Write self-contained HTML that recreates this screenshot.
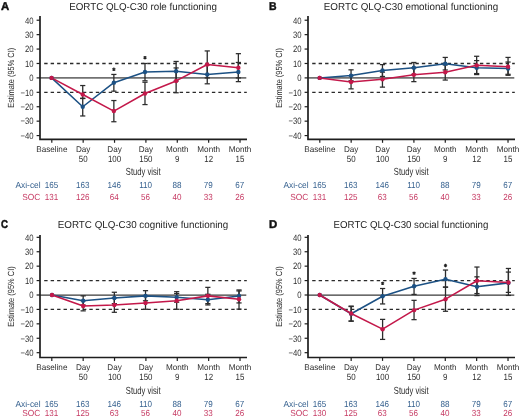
<!DOCTYPE html>
<html><head><meta charset="utf-8"><style>
html,body{margin:0;padding:0;background:#fff;width:520px;height:418px;overflow:hidden}
svg{display:block;will-change:transform}
text{font-family:"Liberation Sans",sans-serif;text-rendering:geometricPrecision}
</style></head><body>
<svg width="520" height="418" viewBox="0 0 520 418">
<rect width="520" height="418" fill="#fff"/>
<text transform="translate(0.9 9.7) scale(1.0 1)" font-size="11.4" font-weight="bold" fill="#111" stroke="#111" stroke-width="0.45">A</text>
<text x="143.0" y="9.7" font-size="10.1" fill="#262626" text-anchor="middle" textLength="147.7" lengthAdjust="spacingAndGlyphs">EORTC QLQ-C30 role functioning</text>
<line x1="44.2" y1="63.48" x2="246.8" y2="63.48" stroke="#2a2a2a" stroke-width="1.3" stroke-dasharray="3.4 3.05"/>
<line x1="44.2" y1="92.32" x2="246.8" y2="92.32" stroke="#2a2a2a" stroke-width="1.3" stroke-dasharray="3.4 3.05"/>
<line x1="40" y1="77.90" x2="246.3" y2="77.90" stroke="#727272" stroke-width="1.9"/>
<path d="M40 15.9 V139.4 H247" fill="none" stroke="#1e1e1e" stroke-width="1.7"/>
<line x1="36.6" y1="20.22" x2="40" y2="20.22" stroke="#1e1e1e" stroke-width="1.2"/>
<text transform="translate(33.60 23.52) scale(0.84 1)" font-size="9.2" fill="#2e2e2e" text-anchor="end">40</text>
<line x1="36.6" y1="34.64" x2="40" y2="34.64" stroke="#1e1e1e" stroke-width="1.2"/>
<text transform="translate(33.60 37.94) scale(0.84 1)" font-size="9.2" fill="#2e2e2e" text-anchor="end">30</text>
<line x1="36.6" y1="49.06" x2="40" y2="49.06" stroke="#1e1e1e" stroke-width="1.2"/>
<text transform="translate(33.60 52.36) scale(0.84 1)" font-size="9.2" fill="#2e2e2e" text-anchor="end">20</text>
<line x1="36.6" y1="63.48" x2="40" y2="63.48" stroke="#1e1e1e" stroke-width="1.2"/>
<text transform="translate(33.60 66.78) scale(0.84 1)" font-size="9.2" fill="#2e2e2e" text-anchor="end">10</text>
<line x1="36.6" y1="77.90" x2="40" y2="77.90" stroke="#1e1e1e" stroke-width="1.2"/>
<text transform="translate(33.60 81.20) scale(0.84 1)" font-size="9.2" fill="#2e2e2e" text-anchor="end">0</text>
<line x1="36.6" y1="92.32" x2="40" y2="92.32" stroke="#1e1e1e" stroke-width="1.2"/>
<text transform="translate(33.60 95.62) scale(0.84 1)" font-size="9.2" fill="#2e2e2e" text-anchor="end">−10</text>
<line x1="36.6" y1="106.74" x2="40" y2="106.74" stroke="#1e1e1e" stroke-width="1.2"/>
<text transform="translate(33.60 110.04) scale(0.84 1)" font-size="9.2" fill="#2e2e2e" text-anchor="end">−20</text>
<line x1="36.6" y1="121.16" x2="40" y2="121.16" stroke="#1e1e1e" stroke-width="1.2"/>
<text transform="translate(33.60 124.46) scale(0.84 1)" font-size="9.2" fill="#2e2e2e" text-anchor="end">−30</text>
<line x1="36.6" y1="135.58" x2="40" y2="135.58" stroke="#1e1e1e" stroke-width="1.2"/>
<text transform="translate(33.60 138.88) scale(0.84 1)" font-size="9.2" fill="#2e2e2e" text-anchor="end">−40</text>
<text transform="translate(14.0,77.80) rotate(-90)" x="0" y="0" font-size="8.9" fill="#2e2e2e" text-anchor="middle" textLength="60" lengthAdjust="spacingAndGlyphs">Estimate (95% CI)</text>
<line x1="51.80" y1="139.4" x2="51.80" y2="142.8" stroke="#1e1e1e" stroke-width="1.2"/>
<text transform="translate(51.80 151.90) scale(0.98 1)" font-size="8.3" fill="#2e2e2e" text-anchor="middle">Baseline</text>
<line x1="83.17" y1="139.4" x2="83.17" y2="142.8" stroke="#1e1e1e" stroke-width="1.2"/>
<text transform="translate(83.17 151.90) scale(0.98 1)" font-size="8.3" fill="#2e2e2e" text-anchor="middle">Day</text>
<text transform="translate(83.17 161.60) scale(0.88 1)" font-size="9.0" fill="#2e2e2e" text-anchor="middle">50</text>
<line x1="114.54" y1="139.4" x2="114.54" y2="142.8" stroke="#1e1e1e" stroke-width="1.2"/>
<text transform="translate(114.54 151.90) scale(0.98 1)" font-size="8.3" fill="#2e2e2e" text-anchor="middle">Day</text>
<text transform="translate(114.54 161.60) scale(0.88 1)" font-size="9.0" fill="#2e2e2e" text-anchor="middle">100</text>
<line x1="145.91" y1="139.4" x2="145.91" y2="142.8" stroke="#1e1e1e" stroke-width="1.2"/>
<text transform="translate(145.91 151.90) scale(0.98 1)" font-size="8.3" fill="#2e2e2e" text-anchor="middle">Day</text>
<text transform="translate(145.91 161.60) scale(0.88 1)" font-size="9.0" fill="#2e2e2e" text-anchor="middle">150</text>
<line x1="177.28" y1="139.4" x2="177.28" y2="142.8" stroke="#1e1e1e" stroke-width="1.2"/>
<text transform="translate(177.28 151.90) scale(0.98 1)" font-size="8.3" fill="#2e2e2e" text-anchor="middle">Month</text>
<text transform="translate(177.28 161.60) scale(0.88 1)" font-size="9.0" fill="#2e2e2e" text-anchor="middle">9</text>
<line x1="208.65" y1="139.4" x2="208.65" y2="142.8" stroke="#1e1e1e" stroke-width="1.2"/>
<text transform="translate(208.65 151.90) scale(0.98 1)" font-size="8.3" fill="#2e2e2e" text-anchor="middle">Month</text>
<text transform="translate(208.65 161.60) scale(0.88 1)" font-size="9.0" fill="#2e2e2e" text-anchor="middle">12</text>
<line x1="240.02" y1="139.4" x2="240.02" y2="142.8" stroke="#1e1e1e" stroke-width="1.2"/>
<text transform="translate(240.02 151.90) scale(0.98 1)" font-size="8.3" fill="#2e2e2e" text-anchor="middle">Month</text>
<text transform="translate(240.02 161.60) scale(0.88 1)" font-size="9.0" fill="#2e2e2e" text-anchor="middle">15</text>
<text transform="translate(143.20 175.30) scale(0.74 1)" font-size="10.3" fill="#2e2e2e" text-anchor="middle">Study visit</text>
<text transform="translate(40.60 188.10) scale(0.95 1)" font-size="8.8" fill="#36618f" text-anchor="end">Axi-cel</text>
<text transform="translate(40.40 199.90) scale(0.95 1)" font-size="8.8" fill="#c63a63" text-anchor="end">SOC</text>
<text transform="translate(51.50 188.10) scale(0.92 1)" font-size="8.8" fill="#36618f" text-anchor="middle">165</text>
<text transform="translate(51.50 199.90) scale(0.92 1)" font-size="8.8" fill="#c63a63" text-anchor="middle">131</text>
<text transform="translate(82.87 188.10) scale(0.92 1)" font-size="8.8" fill="#36618f" text-anchor="middle">163</text>
<text transform="translate(82.87 199.90) scale(0.92 1)" font-size="8.8" fill="#c63a63" text-anchor="middle">126</text>
<text transform="translate(114.24 188.10) scale(0.92 1)" font-size="8.8" fill="#36618f" text-anchor="middle">146</text>
<text transform="translate(114.24 199.90) scale(0.92 1)" font-size="8.8" fill="#c63a63" text-anchor="middle">64</text>
<text transform="translate(145.61 188.10) scale(0.92 1)" font-size="8.8" fill="#36618f" text-anchor="middle">110</text>
<text transform="translate(145.61 199.90) scale(0.92 1)" font-size="8.8" fill="#c63a63" text-anchor="middle">56</text>
<text transform="translate(176.98 188.10) scale(0.92 1)" font-size="8.8" fill="#36618f" text-anchor="middle">88</text>
<text transform="translate(176.98 199.90) scale(0.92 1)" font-size="8.8" fill="#c63a63" text-anchor="middle">40</text>
<text transform="translate(208.35 188.10) scale(0.92 1)" font-size="8.8" fill="#36618f" text-anchor="middle">79</text>
<text transform="translate(208.35 199.90) scale(0.92 1)" font-size="8.8" fill="#c63a63" text-anchor="middle">33</text>
<text transform="translate(239.72 188.10) scale(0.92 1)" font-size="8.8" fill="#36618f" text-anchor="middle">67</text>
<text transform="translate(239.72 199.90) scale(0.92 1)" font-size="8.8" fill="#c63a63" text-anchor="middle">26</text>
<line x1="82.73" y1="98.23" x2="82.73" y2="115.97" stroke="#2c2c2c" stroke-width="1.3"/>
<line x1="80.13" y1="115.97" x2="85.33" y2="115.97" stroke="#2c2c2c" stroke-width="1.25"/>
<line x1="80.13" y1="98.23" x2="85.33" y2="98.23" stroke="#2c2c2c" stroke-width="1.25"/>
<line x1="82.73" y1="85.54" x2="82.73" y2="98.52" stroke="#2c2c2c" stroke-width="1.3"/>
<line x1="80.13" y1="98.52" x2="85.33" y2="98.52" stroke="#2c2c2c" stroke-width="1.25"/>
<line x1="80.13" y1="85.54" x2="85.33" y2="85.54" stroke="#2c2c2c" stroke-width="1.25"/>
<line x1="113.86" y1="74.44" x2="113.86" y2="91.17" stroke="#2c2c2c" stroke-width="1.3"/>
<line x1="111.26" y1="91.17" x2="116.46" y2="91.17" stroke="#2c2c2c" stroke-width="1.25"/>
<line x1="111.26" y1="74.44" x2="116.46" y2="74.44" stroke="#2c2c2c" stroke-width="1.25"/>
<line x1="113.86" y1="100.54" x2="113.86" y2="121.74" stroke="#2c2c2c" stroke-width="1.3"/>
<line x1="111.26" y1="121.74" x2="116.46" y2="121.74" stroke="#2c2c2c" stroke-width="1.25"/>
<line x1="111.26" y1="100.54" x2="116.46" y2="100.54" stroke="#2c2c2c" stroke-width="1.25"/>
<path d="M113.86 67.60V71.00M112.36 68.45L115.36 70.15M112.36 70.15L115.36 68.45" stroke="#222" stroke-width="1.1"/>
<line x1="144.99" y1="63.48" x2="144.99" y2="80.78" stroke="#2c2c2c" stroke-width="1.3"/>
<line x1="142.39" y1="80.78" x2="147.59" y2="80.78" stroke="#2c2c2c" stroke-width="1.25"/>
<line x1="142.39" y1="63.48" x2="147.59" y2="63.48" stroke="#2c2c2c" stroke-width="1.25"/>
<line x1="144.99" y1="82.23" x2="144.99" y2="104.58" stroke="#2c2c2c" stroke-width="1.3"/>
<line x1="142.39" y1="104.58" x2="147.59" y2="104.58" stroke="#2c2c2c" stroke-width="1.25"/>
<line x1="142.39" y1="82.23" x2="147.59" y2="82.23" stroke="#2c2c2c" stroke-width="1.25"/>
<path d="M144.99 56.00V59.40M143.49 56.85L146.49 58.55M143.49 58.55L146.49 56.85" stroke="#222" stroke-width="1.1"/>
<line x1="176.12" y1="61.46" x2="176.12" y2="81.07" stroke="#2c2c2c" stroke-width="1.3"/>
<line x1="173.52" y1="81.07" x2="178.72" y2="81.07" stroke="#2c2c2c" stroke-width="1.25"/>
<line x1="173.52" y1="61.46" x2="178.72" y2="61.46" stroke="#2c2c2c" stroke-width="1.25"/>
<line x1="176.12" y1="67.95" x2="176.12" y2="92.75" stroke="#2c2c2c" stroke-width="1.3"/>
<line x1="173.52" y1="92.75" x2="178.72" y2="92.75" stroke="#2c2c2c" stroke-width="1.25"/>
<line x1="173.52" y1="67.95" x2="178.72" y2="67.95" stroke="#2c2c2c" stroke-width="1.25"/>
<line x1="207.25" y1="64.92" x2="207.25" y2="83.81" stroke="#2c2c2c" stroke-width="1.3"/>
<line x1="204.65" y1="83.81" x2="209.85" y2="83.81" stroke="#2c2c2c" stroke-width="1.25"/>
<line x1="204.65" y1="64.92" x2="209.85" y2="64.92" stroke="#2c2c2c" stroke-width="1.25"/>
<line x1="207.25" y1="50.93" x2="207.25" y2="77.90" stroke="#2c2c2c" stroke-width="1.3"/>
<line x1="204.65" y1="77.90" x2="209.85" y2="77.90" stroke="#2c2c2c" stroke-width="1.25"/>
<line x1="204.65" y1="50.93" x2="209.85" y2="50.93" stroke="#2c2c2c" stroke-width="1.25"/>
<line x1="238.38" y1="62.47" x2="238.38" y2="81.65" stroke="#2c2c2c" stroke-width="1.3"/>
<line x1="235.78" y1="81.65" x2="240.98" y2="81.65" stroke="#2c2c2c" stroke-width="1.25"/>
<line x1="235.78" y1="62.47" x2="240.98" y2="62.47" stroke="#2c2c2c" stroke-width="1.25"/>
<line x1="238.38" y1="53.67" x2="238.38" y2="77.90" stroke="#2c2c2c" stroke-width="1.3"/>
<line x1="235.78" y1="77.90" x2="240.98" y2="77.90" stroke="#2c2c2c" stroke-width="1.25"/>
<line x1="235.78" y1="53.67" x2="240.98" y2="53.67" stroke="#2c2c2c" stroke-width="1.25"/>
<polyline points="51.60,77.90 82.73,106.74 113.86,82.66 144.99,71.99 176.12,71.27 207.25,74.44 238.38,71.99" fill="none" stroke="#1c5184" stroke-width="1.55" stroke-linejoin="round"/>
<polyline points="51.60,77.90 82.73,94.48 113.86,111.07 144.99,93.47 176.12,80.93 207.25,64.49 238.38,67.81" fill="none" stroke="#c3184a" stroke-width="1.55" stroke-linejoin="round"/>
<circle cx="51.60" cy="77.90" r="2.2" fill="#1c5184"/>
<circle cx="82.73" cy="106.74" r="2.2" fill="#1c5184"/>
<circle cx="113.86" cy="82.66" r="2.2" fill="#1c5184"/>
<circle cx="144.99" cy="71.99" r="2.2" fill="#1c5184"/>
<circle cx="176.12" cy="71.27" r="2.2" fill="#1c5184"/>
<circle cx="207.25" cy="74.44" r="2.2" fill="#1c5184"/>
<circle cx="238.38" cy="71.99" r="2.2" fill="#1c5184"/>
<circle cx="51.60" cy="77.90" r="2.2" fill="#c3184a"/>
<circle cx="82.73" cy="94.48" r="2.2" fill="#c3184a"/>
<circle cx="113.86" cy="111.07" r="2.2" fill="#c3184a"/>
<circle cx="144.99" cy="93.47" r="2.2" fill="#c3184a"/>
<circle cx="176.12" cy="80.93" r="2.2" fill="#c3184a"/>
<circle cx="207.25" cy="64.49" r="2.2" fill="#c3184a"/>
<circle cx="238.38" cy="67.81" r="2.2" fill="#c3184a"/>
<text transform="translate(268.9 9.7) scale(0.92 1)" font-size="11.4" font-weight="bold" fill="#111" stroke="#111" stroke-width="0.45">B</text>
<text x="411.0" y="9.7" font-size="10.1" fill="#262626" text-anchor="middle" textLength="174.4" lengthAdjust="spacingAndGlyphs">EORTC QLQ-C30 emotional functioning</text>
<line x1="312.2" y1="63.48" x2="514.8" y2="63.48" stroke="#2a2a2a" stroke-width="1.3" stroke-dasharray="3.4 3.05"/>
<line x1="312.2" y1="92.32" x2="514.8" y2="92.32" stroke="#2a2a2a" stroke-width="1.3" stroke-dasharray="3.4 3.05"/>
<line x1="308" y1="77.90" x2="514.3" y2="77.90" stroke="#727272" stroke-width="1.9"/>
<path d="M308 15.9 V139.4 H515" fill="none" stroke="#1e1e1e" stroke-width="1.7"/>
<line x1="304.6" y1="20.22" x2="308" y2="20.22" stroke="#1e1e1e" stroke-width="1.2"/>
<text transform="translate(301.60 23.52) scale(0.84 1)" font-size="9.2" fill="#2e2e2e" text-anchor="end">40</text>
<line x1="304.6" y1="34.64" x2="308" y2="34.64" stroke="#1e1e1e" stroke-width="1.2"/>
<text transform="translate(301.60 37.94) scale(0.84 1)" font-size="9.2" fill="#2e2e2e" text-anchor="end">30</text>
<line x1="304.6" y1="49.06" x2="308" y2="49.06" stroke="#1e1e1e" stroke-width="1.2"/>
<text transform="translate(301.60 52.36) scale(0.84 1)" font-size="9.2" fill="#2e2e2e" text-anchor="end">20</text>
<line x1="304.6" y1="63.48" x2="308" y2="63.48" stroke="#1e1e1e" stroke-width="1.2"/>
<text transform="translate(301.60 66.78) scale(0.84 1)" font-size="9.2" fill="#2e2e2e" text-anchor="end">10</text>
<line x1="304.6" y1="77.90" x2="308" y2="77.90" stroke="#1e1e1e" stroke-width="1.2"/>
<text transform="translate(301.60 81.20) scale(0.84 1)" font-size="9.2" fill="#2e2e2e" text-anchor="end">0</text>
<line x1="304.6" y1="92.32" x2="308" y2="92.32" stroke="#1e1e1e" stroke-width="1.2"/>
<text transform="translate(301.60 95.62) scale(0.84 1)" font-size="9.2" fill="#2e2e2e" text-anchor="end">−10</text>
<line x1="304.6" y1="106.74" x2="308" y2="106.74" stroke="#1e1e1e" stroke-width="1.2"/>
<text transform="translate(301.60 110.04) scale(0.84 1)" font-size="9.2" fill="#2e2e2e" text-anchor="end">−20</text>
<line x1="304.6" y1="121.16" x2="308" y2="121.16" stroke="#1e1e1e" stroke-width="1.2"/>
<text transform="translate(301.60 124.46) scale(0.84 1)" font-size="9.2" fill="#2e2e2e" text-anchor="end">−30</text>
<line x1="304.6" y1="135.58" x2="308" y2="135.58" stroke="#1e1e1e" stroke-width="1.2"/>
<text transform="translate(301.60 138.88) scale(0.84 1)" font-size="9.2" fill="#2e2e2e" text-anchor="end">−40</text>
<text transform="translate(281.8,77.95) rotate(-90)" x="0" y="0" font-size="8.9" fill="#2e2e2e" text-anchor="middle" textLength="59.8" lengthAdjust="spacingAndGlyphs">Estimate (95% CI)</text>
<line x1="319.80" y1="139.4" x2="319.80" y2="142.8" stroke="#1e1e1e" stroke-width="1.2"/>
<text transform="translate(319.80 151.90) scale(0.98 1)" font-size="8.3" fill="#2e2e2e" text-anchor="middle">Baseline</text>
<line x1="351.17" y1="139.4" x2="351.17" y2="142.8" stroke="#1e1e1e" stroke-width="1.2"/>
<text transform="translate(351.17 151.90) scale(0.98 1)" font-size="8.3" fill="#2e2e2e" text-anchor="middle">Day</text>
<text transform="translate(351.17 161.60) scale(0.88 1)" font-size="9.0" fill="#2e2e2e" text-anchor="middle">50</text>
<line x1="382.54" y1="139.4" x2="382.54" y2="142.8" stroke="#1e1e1e" stroke-width="1.2"/>
<text transform="translate(382.54 151.90) scale(0.98 1)" font-size="8.3" fill="#2e2e2e" text-anchor="middle">Day</text>
<text transform="translate(382.54 161.60) scale(0.88 1)" font-size="9.0" fill="#2e2e2e" text-anchor="middle">100</text>
<line x1="413.91" y1="139.4" x2="413.91" y2="142.8" stroke="#1e1e1e" stroke-width="1.2"/>
<text transform="translate(413.91 151.90) scale(0.98 1)" font-size="8.3" fill="#2e2e2e" text-anchor="middle">Day</text>
<text transform="translate(413.91 161.60) scale(0.88 1)" font-size="9.0" fill="#2e2e2e" text-anchor="middle">150</text>
<line x1="445.28" y1="139.4" x2="445.28" y2="142.8" stroke="#1e1e1e" stroke-width="1.2"/>
<text transform="translate(445.28 151.90) scale(0.98 1)" font-size="8.3" fill="#2e2e2e" text-anchor="middle">Month</text>
<text transform="translate(445.28 161.60) scale(0.88 1)" font-size="9.0" fill="#2e2e2e" text-anchor="middle">9</text>
<line x1="476.65" y1="139.4" x2="476.65" y2="142.8" stroke="#1e1e1e" stroke-width="1.2"/>
<text transform="translate(476.65 151.90) scale(0.98 1)" font-size="8.3" fill="#2e2e2e" text-anchor="middle">Month</text>
<text transform="translate(476.65 161.60) scale(0.88 1)" font-size="9.0" fill="#2e2e2e" text-anchor="middle">12</text>
<line x1="508.02" y1="139.4" x2="508.02" y2="142.8" stroke="#1e1e1e" stroke-width="1.2"/>
<text transform="translate(508.02 151.90) scale(0.98 1)" font-size="8.3" fill="#2e2e2e" text-anchor="middle">Month</text>
<text transform="translate(508.02 161.60) scale(0.88 1)" font-size="9.0" fill="#2e2e2e" text-anchor="middle">15</text>
<text transform="translate(411.20 175.30) scale(0.74 1)" font-size="10.3" fill="#2e2e2e" text-anchor="middle">Study visit</text>
<text transform="translate(308.60 188.10) scale(0.95 1)" font-size="8.8" fill="#36618f" text-anchor="end">Axi-cel</text>
<text transform="translate(308.40 199.90) scale(0.95 1)" font-size="8.8" fill="#c63a63" text-anchor="end">SOC</text>
<text transform="translate(319.50 188.10) scale(0.92 1)" font-size="8.8" fill="#36618f" text-anchor="middle">165</text>
<text transform="translate(319.50 199.90) scale(0.92 1)" font-size="8.8" fill="#c63a63" text-anchor="middle">131</text>
<text transform="translate(350.87 188.10) scale(0.92 1)" font-size="8.8" fill="#36618f" text-anchor="middle">163</text>
<text transform="translate(350.87 199.90) scale(0.92 1)" font-size="8.8" fill="#c63a63" text-anchor="middle">125</text>
<text transform="translate(382.24 188.10) scale(0.92 1)" font-size="8.8" fill="#36618f" text-anchor="middle">146</text>
<text transform="translate(382.24 199.90) scale(0.92 1)" font-size="8.8" fill="#c63a63" text-anchor="middle">63</text>
<text transform="translate(413.61 188.10) scale(0.92 1)" font-size="8.8" fill="#36618f" text-anchor="middle">110</text>
<text transform="translate(413.61 199.90) scale(0.92 1)" font-size="8.8" fill="#c63a63" text-anchor="middle">56</text>
<text transform="translate(444.98 188.10) scale(0.92 1)" font-size="8.8" fill="#36618f" text-anchor="middle">88</text>
<text transform="translate(444.98 199.90) scale(0.92 1)" font-size="8.8" fill="#c63a63" text-anchor="middle">40</text>
<text transform="translate(476.35 188.10) scale(0.92 1)" font-size="8.8" fill="#36618f" text-anchor="middle">79</text>
<text transform="translate(476.35 199.90) scale(0.92 1)" font-size="8.8" fill="#c63a63" text-anchor="middle">33</text>
<text transform="translate(507.72 188.10) scale(0.92 1)" font-size="8.8" fill="#36618f" text-anchor="middle">67</text>
<text transform="translate(507.72 199.90) scale(0.92 1)" font-size="8.8" fill="#c63a63" text-anchor="middle">26</text>
<line x1="351.05" y1="69.82" x2="351.05" y2="80.78" stroke="#2c2c2c" stroke-width="1.3"/>
<line x1="348.45" y1="80.78" x2="353.65" y2="80.78" stroke="#2c2c2c" stroke-width="1.25"/>
<line x1="348.45" y1="69.82" x2="353.65" y2="69.82" stroke="#2c2c2c" stroke-width="1.25"/>
<line x1="351.05" y1="75.74" x2="351.05" y2="88.86" stroke="#2c2c2c" stroke-width="1.3"/>
<line x1="348.45" y1="88.86" x2="353.65" y2="88.86" stroke="#2c2c2c" stroke-width="1.25"/>
<line x1="348.45" y1="75.74" x2="353.65" y2="75.74" stroke="#2c2c2c" stroke-width="1.25"/>
<line x1="382.45" y1="64.63" x2="382.45" y2="76.46" stroke="#2c2c2c" stroke-width="1.3"/>
<line x1="379.85" y1="76.46" x2="385.05" y2="76.46" stroke="#2c2c2c" stroke-width="1.25"/>
<line x1="379.85" y1="64.63" x2="385.05" y2="64.63" stroke="#2c2c2c" stroke-width="1.25"/>
<line x1="382.45" y1="72.13" x2="382.45" y2="87.13" stroke="#2c2c2c" stroke-width="1.3"/>
<line x1="379.85" y1="87.13" x2="385.05" y2="87.13" stroke="#2c2c2c" stroke-width="1.25"/>
<line x1="379.85" y1="72.13" x2="385.05" y2="72.13" stroke="#2c2c2c" stroke-width="1.25"/>
<line x1="413.85" y1="62.47" x2="413.85" y2="74.30" stroke="#2c2c2c" stroke-width="1.3"/>
<line x1="411.25" y1="74.30" x2="416.45" y2="74.30" stroke="#2c2c2c" stroke-width="1.25"/>
<line x1="411.25" y1="62.47" x2="416.45" y2="62.47" stroke="#2c2c2c" stroke-width="1.25"/>
<line x1="413.85" y1="67.81" x2="413.85" y2="81.65" stroke="#2c2c2c" stroke-width="1.3"/>
<line x1="411.25" y1="81.65" x2="416.45" y2="81.65" stroke="#2c2c2c" stroke-width="1.25"/>
<line x1="411.25" y1="67.81" x2="416.45" y2="67.81" stroke="#2c2c2c" stroke-width="1.25"/>
<line x1="445.25" y1="57.42" x2="445.25" y2="69.97" stroke="#2c2c2c" stroke-width="1.3"/>
<line x1="442.65" y1="69.97" x2="447.85" y2="69.97" stroke="#2c2c2c" stroke-width="1.25"/>
<line x1="442.65" y1="57.42" x2="447.85" y2="57.42" stroke="#2c2c2c" stroke-width="1.25"/>
<line x1="445.25" y1="64.92" x2="445.25" y2="80.06" stroke="#2c2c2c" stroke-width="1.3"/>
<line x1="442.65" y1="80.06" x2="447.85" y2="80.06" stroke="#2c2c2c" stroke-width="1.25"/>
<line x1="442.65" y1="64.92" x2="447.85" y2="64.92" stroke="#2c2c2c" stroke-width="1.25"/>
<line x1="476.65" y1="60.60" x2="476.65" y2="74.58" stroke="#2c2c2c" stroke-width="1.3"/>
<line x1="474.05" y1="74.58" x2="479.25" y2="74.58" stroke="#2c2c2c" stroke-width="1.25"/>
<line x1="474.05" y1="60.60" x2="479.25" y2="60.60" stroke="#2c2c2c" stroke-width="1.25"/>
<line x1="476.65" y1="56.27" x2="476.65" y2="73.57" stroke="#2c2c2c" stroke-width="1.3"/>
<line x1="474.05" y1="73.57" x2="479.25" y2="73.57" stroke="#2c2c2c" stroke-width="1.25"/>
<line x1="474.05" y1="56.27" x2="479.25" y2="56.27" stroke="#2c2c2c" stroke-width="1.25"/>
<line x1="508.05" y1="62.04" x2="508.05" y2="75.30" stroke="#2c2c2c" stroke-width="1.3"/>
<line x1="505.45" y1="75.30" x2="510.65" y2="75.30" stroke="#2c2c2c" stroke-width="1.25"/>
<line x1="505.45" y1="62.04" x2="510.65" y2="62.04" stroke="#2c2c2c" stroke-width="1.25"/>
<line x1="508.05" y1="57.42" x2="508.05" y2="74.30" stroke="#2c2c2c" stroke-width="1.3"/>
<line x1="505.45" y1="74.30" x2="510.65" y2="74.30" stroke="#2c2c2c" stroke-width="1.25"/>
<line x1="505.45" y1="57.42" x2="510.65" y2="57.42" stroke="#2c2c2c" stroke-width="1.25"/>
<polyline points="319.65,77.90 351.05,75.59 382.45,70.40 413.85,67.81 445.25,63.77 476.65,67.81 508.05,68.53" fill="none" stroke="#1c5184" stroke-width="1.55" stroke-linejoin="round"/>
<polyline points="319.65,77.90 351.05,81.94 382.45,79.34 413.85,74.73 445.25,72.28 476.65,65.35 508.05,66.65" fill="none" stroke="#c3184a" stroke-width="1.55" stroke-linejoin="round"/>
<circle cx="319.65" cy="77.90" r="2.2" fill="#1c5184"/>
<circle cx="351.05" cy="75.59" r="2.2" fill="#1c5184"/>
<circle cx="382.45" cy="70.40" r="2.2" fill="#1c5184"/>
<circle cx="413.85" cy="67.81" r="2.2" fill="#1c5184"/>
<circle cx="445.25" cy="63.77" r="2.2" fill="#1c5184"/>
<circle cx="476.65" cy="67.81" r="2.2" fill="#1c5184"/>
<circle cx="508.05" cy="68.53" r="2.2" fill="#1c5184"/>
<circle cx="319.65" cy="77.90" r="2.2" fill="#c3184a"/>
<circle cx="351.05" cy="81.94" r="2.2" fill="#c3184a"/>
<circle cx="382.45" cy="79.34" r="2.2" fill="#c3184a"/>
<circle cx="413.85" cy="74.73" r="2.2" fill="#c3184a"/>
<circle cx="445.25" cy="72.28" r="2.2" fill="#c3184a"/>
<circle cx="476.65" cy="65.35" r="2.2" fill="#c3184a"/>
<circle cx="508.05" cy="66.65" r="2.2" fill="#c3184a"/>
<text transform="translate(0.9 227.9) scale(0.85 1)" font-size="11.4" font-weight="bold" fill="#111" stroke="#111" stroke-width="0.45">C</text>
<text x="143.0" y="227.7" font-size="10.1" fill="#262626" text-anchor="middle" textLength="170.5" lengthAdjust="spacingAndGlyphs">EORTC QLQ-C30 cognitive functioning</text>
<line x1="44.2" y1="280.58" x2="246.8" y2="280.58" stroke="#2a2a2a" stroke-width="1.3" stroke-dasharray="3.4 3.05"/>
<line x1="44.2" y1="309.42" x2="246.8" y2="309.42" stroke="#2a2a2a" stroke-width="1.3" stroke-dasharray="3.4 3.05"/>
<line x1="40" y1="295.15" x2="246.3" y2="295.15" stroke="#3a3a3a" stroke-width="1.3"/>
<path d="M40 234.9 V357.5 H247" fill="none" stroke="#1e1e1e" stroke-width="1.7"/>
<line x1="36.6" y1="237.32" x2="40" y2="237.32" stroke="#1e1e1e" stroke-width="1.2"/>
<text transform="translate(33.60 240.62) scale(0.84 1)" font-size="9.2" fill="#2e2e2e" text-anchor="end">40</text>
<line x1="36.6" y1="251.74" x2="40" y2="251.74" stroke="#1e1e1e" stroke-width="1.2"/>
<text transform="translate(33.60 255.04) scale(0.84 1)" font-size="9.2" fill="#2e2e2e" text-anchor="end">30</text>
<line x1="36.6" y1="266.16" x2="40" y2="266.16" stroke="#1e1e1e" stroke-width="1.2"/>
<text transform="translate(33.60 269.46) scale(0.84 1)" font-size="9.2" fill="#2e2e2e" text-anchor="end">20</text>
<line x1="36.6" y1="280.58" x2="40" y2="280.58" stroke="#1e1e1e" stroke-width="1.2"/>
<text transform="translate(33.60 283.88) scale(0.84 1)" font-size="9.2" fill="#2e2e2e" text-anchor="end">10</text>
<line x1="36.6" y1="295.00" x2="40" y2="295.00" stroke="#1e1e1e" stroke-width="1.2"/>
<text transform="translate(33.60 298.30) scale(0.84 1)" font-size="9.2" fill="#2e2e2e" text-anchor="end">0</text>
<line x1="36.6" y1="309.42" x2="40" y2="309.42" stroke="#1e1e1e" stroke-width="1.2"/>
<text transform="translate(33.60 312.72) scale(0.84 1)" font-size="9.2" fill="#2e2e2e" text-anchor="end">−10</text>
<line x1="36.6" y1="323.84" x2="40" y2="323.84" stroke="#1e1e1e" stroke-width="1.2"/>
<text transform="translate(33.60 327.14) scale(0.84 1)" font-size="9.2" fill="#2e2e2e" text-anchor="end">−20</text>
<line x1="36.6" y1="338.26" x2="40" y2="338.26" stroke="#1e1e1e" stroke-width="1.2"/>
<text transform="translate(33.60 341.56) scale(0.84 1)" font-size="9.2" fill="#2e2e2e" text-anchor="end">−30</text>
<line x1="36.6" y1="352.68" x2="40" y2="352.68" stroke="#1e1e1e" stroke-width="1.2"/>
<text transform="translate(33.60 355.98) scale(0.84 1)" font-size="9.2" fill="#2e2e2e" text-anchor="end">−40</text>
<text transform="translate(14.0,296.50) rotate(-90)" x="0" y="0" font-size="8.9" fill="#2e2e2e" text-anchor="middle" textLength="60.5" lengthAdjust="spacingAndGlyphs">Estimate (95% CI)</text>
<line x1="51.80" y1="357.5" x2="51.80" y2="360.9" stroke="#1e1e1e" stroke-width="1.2"/>
<text transform="translate(51.80 370.40) scale(0.98 1)" font-size="8.3" fill="#2e2e2e" text-anchor="middle">Baseline</text>
<line x1="83.17" y1="357.5" x2="83.17" y2="360.9" stroke="#1e1e1e" stroke-width="1.2"/>
<text transform="translate(83.17 370.40) scale(0.98 1)" font-size="8.3" fill="#2e2e2e" text-anchor="middle">Day</text>
<text transform="translate(83.17 380.00) scale(0.88 1)" font-size="9.0" fill="#2e2e2e" text-anchor="middle">50</text>
<line x1="114.54" y1="357.5" x2="114.54" y2="360.9" stroke="#1e1e1e" stroke-width="1.2"/>
<text transform="translate(114.54 370.40) scale(0.98 1)" font-size="8.3" fill="#2e2e2e" text-anchor="middle">Day</text>
<text transform="translate(114.54 380.00) scale(0.88 1)" font-size="9.0" fill="#2e2e2e" text-anchor="middle">100</text>
<line x1="145.91" y1="357.5" x2="145.91" y2="360.9" stroke="#1e1e1e" stroke-width="1.2"/>
<text transform="translate(145.91 370.40) scale(0.98 1)" font-size="8.3" fill="#2e2e2e" text-anchor="middle">Day</text>
<text transform="translate(145.91 380.00) scale(0.88 1)" font-size="9.0" fill="#2e2e2e" text-anchor="middle">150</text>
<line x1="177.28" y1="357.5" x2="177.28" y2="360.9" stroke="#1e1e1e" stroke-width="1.2"/>
<text transform="translate(177.28 370.40) scale(0.98 1)" font-size="8.3" fill="#2e2e2e" text-anchor="middle">Month</text>
<text transform="translate(177.28 380.00) scale(0.88 1)" font-size="9.0" fill="#2e2e2e" text-anchor="middle">9</text>
<line x1="208.65" y1="357.5" x2="208.65" y2="360.9" stroke="#1e1e1e" stroke-width="1.2"/>
<text transform="translate(208.65 370.40) scale(0.98 1)" font-size="8.3" fill="#2e2e2e" text-anchor="middle">Month</text>
<text transform="translate(208.65 380.00) scale(0.88 1)" font-size="9.0" fill="#2e2e2e" text-anchor="middle">12</text>
<line x1="240.02" y1="357.5" x2="240.02" y2="360.9" stroke="#1e1e1e" stroke-width="1.2"/>
<text transform="translate(240.02 370.40) scale(0.98 1)" font-size="8.3" fill="#2e2e2e" text-anchor="middle">Month</text>
<text transform="translate(240.02 380.00) scale(0.88 1)" font-size="9.0" fill="#2e2e2e" text-anchor="middle">15</text>
<text transform="translate(143.20 393.70) scale(0.74 1)" font-size="10.3" fill="#2e2e2e" text-anchor="middle">Study visit</text>
<text transform="translate(40.60 406.50) scale(0.95 1)" font-size="8.8" fill="#36618f" text-anchor="end">Axi-cel</text>
<text transform="translate(40.40 415.70) scale(0.95 1)" font-size="8.8" fill="#c63a63" text-anchor="end">SOC</text>
<text transform="translate(51.50 406.50) scale(0.92 1)" font-size="8.8" fill="#36618f" text-anchor="middle">165</text>
<text transform="translate(51.50 415.70) scale(0.92 1)" font-size="8.8" fill="#c63a63" text-anchor="middle">131</text>
<text transform="translate(82.87 406.50) scale(0.92 1)" font-size="8.8" fill="#36618f" text-anchor="middle">163</text>
<text transform="translate(82.87 415.70) scale(0.92 1)" font-size="8.8" fill="#c63a63" text-anchor="middle">125</text>
<text transform="translate(114.24 406.50) scale(0.92 1)" font-size="8.8" fill="#36618f" text-anchor="middle">146</text>
<text transform="translate(114.24 415.70) scale(0.92 1)" font-size="8.8" fill="#c63a63" text-anchor="middle">63</text>
<text transform="translate(145.61 406.50) scale(0.92 1)" font-size="8.8" fill="#36618f" text-anchor="middle">110</text>
<text transform="translate(145.61 415.70) scale(0.92 1)" font-size="8.8" fill="#c63a63" text-anchor="middle">56</text>
<text transform="translate(176.98 406.50) scale(0.92 1)" font-size="8.8" fill="#36618f" text-anchor="middle">88</text>
<text transform="translate(176.98 415.70) scale(0.92 1)" font-size="8.8" fill="#c63a63" text-anchor="middle">40</text>
<text transform="translate(208.35 406.50) scale(0.92 1)" font-size="8.8" fill="#36618f" text-anchor="middle">79</text>
<text transform="translate(208.35 415.70) scale(0.92 1)" font-size="8.8" fill="#c63a63" text-anchor="middle">33</text>
<text transform="translate(239.72 406.50) scale(0.92 1)" font-size="8.8" fill="#36618f" text-anchor="middle">67</text>
<text transform="translate(239.72 415.70) scale(0.92 1)" font-size="8.8" fill="#c63a63" text-anchor="middle">26</text>
<line x1="83.17" y1="295.87" x2="83.17" y2="305.09" stroke="#2c2c2c" stroke-width="1.3"/>
<line x1="80.57" y1="305.09" x2="85.77" y2="305.09" stroke="#2c2c2c" stroke-width="1.25"/>
<line x1="80.57" y1="295.87" x2="85.77" y2="295.87" stroke="#2c2c2c" stroke-width="1.25"/>
<line x1="83.17" y1="300.77" x2="83.17" y2="310.86" stroke="#2c2c2c" stroke-width="1.3"/>
<line x1="80.57" y1="310.86" x2="85.77" y2="310.86" stroke="#2c2c2c" stroke-width="1.25"/>
<line x1="80.57" y1="300.77" x2="85.77" y2="300.77" stroke="#2c2c2c" stroke-width="1.25"/>
<line x1="114.34" y1="292.26" x2="114.34" y2="303.65" stroke="#2c2c2c" stroke-width="1.3"/>
<line x1="111.74" y1="303.65" x2="116.94" y2="303.65" stroke="#2c2c2c" stroke-width="1.25"/>
<line x1="111.74" y1="292.26" x2="116.94" y2="292.26" stroke="#2c2c2c" stroke-width="1.25"/>
<line x1="114.34" y1="297.88" x2="114.34" y2="312.30" stroke="#2c2c2c" stroke-width="1.3"/>
<line x1="111.74" y1="312.30" x2="116.94" y2="312.30" stroke="#2c2c2c" stroke-width="1.25"/>
<line x1="111.74" y1="297.88" x2="116.94" y2="297.88" stroke="#2c2c2c" stroke-width="1.25"/>
<line x1="145.51" y1="290.67" x2="145.51" y2="300.77" stroke="#2c2c2c" stroke-width="1.3"/>
<line x1="142.91" y1="300.77" x2="148.11" y2="300.77" stroke="#2c2c2c" stroke-width="1.25"/>
<line x1="142.91" y1="290.67" x2="148.11" y2="290.67" stroke="#2c2c2c" stroke-width="1.25"/>
<line x1="145.51" y1="296.44" x2="145.51" y2="309.28" stroke="#2c2c2c" stroke-width="1.3"/>
<line x1="142.91" y1="309.28" x2="148.11" y2="309.28" stroke="#2c2c2c" stroke-width="1.25"/>
<line x1="142.91" y1="296.44" x2="148.11" y2="296.44" stroke="#2c2c2c" stroke-width="1.25"/>
<line x1="176.68" y1="291.68" x2="176.68" y2="302.21" stroke="#2c2c2c" stroke-width="1.3"/>
<line x1="174.08" y1="302.21" x2="179.28" y2="302.21" stroke="#2c2c2c" stroke-width="1.25"/>
<line x1="174.08" y1="291.68" x2="179.28" y2="291.68" stroke="#2c2c2c" stroke-width="1.25"/>
<line x1="176.68" y1="293.56" x2="176.68" y2="309.28" stroke="#2c2c2c" stroke-width="1.3"/>
<line x1="174.08" y1="309.28" x2="179.28" y2="309.28" stroke="#2c2c2c" stroke-width="1.25"/>
<line x1="174.08" y1="293.56" x2="179.28" y2="293.56" stroke="#2c2c2c" stroke-width="1.25"/>
<line x1="207.85" y1="294.28" x2="207.85" y2="304.95" stroke="#2c2c2c" stroke-width="1.3"/>
<line x1="205.25" y1="304.95" x2="210.45" y2="304.95" stroke="#2c2c2c" stroke-width="1.25"/>
<line x1="205.25" y1="294.28" x2="210.45" y2="294.28" stroke="#2c2c2c" stroke-width="1.25"/>
<line x1="207.85" y1="287.36" x2="207.85" y2="303.65" stroke="#2c2c2c" stroke-width="1.3"/>
<line x1="205.25" y1="303.65" x2="210.45" y2="303.65" stroke="#2c2c2c" stroke-width="1.25"/>
<line x1="205.25" y1="287.36" x2="210.45" y2="287.36" stroke="#2c2c2c" stroke-width="1.25"/>
<line x1="239.02" y1="290.96" x2="239.02" y2="302.93" stroke="#2c2c2c" stroke-width="1.3"/>
<line x1="236.42" y1="302.93" x2="241.62" y2="302.93" stroke="#2c2c2c" stroke-width="1.25"/>
<line x1="236.42" y1="290.96" x2="241.62" y2="290.96" stroke="#2c2c2c" stroke-width="1.25"/>
<line x1="239.02" y1="289.95" x2="239.02" y2="309.13" stroke="#2c2c2c" stroke-width="1.3"/>
<line x1="236.42" y1="309.13" x2="241.62" y2="309.13" stroke="#2c2c2c" stroke-width="1.25"/>
<line x1="236.42" y1="289.95" x2="241.62" y2="289.95" stroke="#2c2c2c" stroke-width="1.25"/>
<polyline points="52.00,295.00 83.17,300.77 114.34,298.03 145.51,295.87 176.68,297.16 207.85,299.76 239.02,296.01" fill="none" stroke="#1c5184" stroke-width="1.55" stroke-linejoin="round"/>
<polyline points="52.00,295.00 83.17,305.96 114.34,304.95 145.51,302.93 176.68,300.77 207.85,295.87 239.02,299.18" fill="none" stroke="#c3184a" stroke-width="1.55" stroke-linejoin="round"/>
<circle cx="52.00" cy="295.00" r="2.2" fill="#1c5184"/>
<circle cx="83.17" cy="300.77" r="2.2" fill="#1c5184"/>
<circle cx="114.34" cy="298.03" r="2.2" fill="#1c5184"/>
<circle cx="145.51" cy="295.87" r="2.2" fill="#1c5184"/>
<circle cx="176.68" cy="297.16" r="2.2" fill="#1c5184"/>
<circle cx="207.85" cy="299.76" r="2.2" fill="#1c5184"/>
<circle cx="239.02" cy="296.01" r="2.2" fill="#1c5184"/>
<circle cx="52.00" cy="295.00" r="2.2" fill="#c3184a"/>
<circle cx="83.17" cy="305.96" r="2.2" fill="#c3184a"/>
<circle cx="114.34" cy="304.95" r="2.2" fill="#c3184a"/>
<circle cx="145.51" cy="302.93" r="2.2" fill="#c3184a"/>
<circle cx="176.68" cy="300.77" r="2.2" fill="#c3184a"/>
<circle cx="207.85" cy="295.87" r="2.2" fill="#c3184a"/>
<circle cx="239.02" cy="299.18" r="2.2" fill="#c3184a"/>
<text transform="translate(268.9 227.9) scale(1.0 1)" font-size="11.4" font-weight="bold" fill="#111" stroke="#111" stroke-width="0.45">D</text>
<text x="411.0" y="227.7" font-size="10.1" fill="#262626" text-anchor="middle" textLength="154.8" lengthAdjust="spacingAndGlyphs">EORTC QLQ-C30 social functioning</text>
<line x1="312.2" y1="280.58" x2="514.8" y2="280.58" stroke="#2a2a2a" stroke-width="1.3" stroke-dasharray="3.4 3.05"/>
<line x1="312.2" y1="309.42" x2="514.8" y2="309.42" stroke="#2a2a2a" stroke-width="1.3" stroke-dasharray="3.4 3.05"/>
<line x1="308" y1="295.15" x2="514.3" y2="295.15" stroke="#3a3a3a" stroke-width="1.3"/>
<path d="M308 234.9 V357.5 H515" fill="none" stroke="#1e1e1e" stroke-width="1.7"/>
<line x1="304.6" y1="237.32" x2="308" y2="237.32" stroke="#1e1e1e" stroke-width="1.2"/>
<text transform="translate(301.60 240.62) scale(0.84 1)" font-size="9.2" fill="#2e2e2e" text-anchor="end">40</text>
<line x1="304.6" y1="251.74" x2="308" y2="251.74" stroke="#1e1e1e" stroke-width="1.2"/>
<text transform="translate(301.60 255.04) scale(0.84 1)" font-size="9.2" fill="#2e2e2e" text-anchor="end">30</text>
<line x1="304.6" y1="266.16" x2="308" y2="266.16" stroke="#1e1e1e" stroke-width="1.2"/>
<text transform="translate(301.60 269.46) scale(0.84 1)" font-size="9.2" fill="#2e2e2e" text-anchor="end">20</text>
<line x1="304.6" y1="280.58" x2="308" y2="280.58" stroke="#1e1e1e" stroke-width="1.2"/>
<text transform="translate(301.60 283.88) scale(0.84 1)" font-size="9.2" fill="#2e2e2e" text-anchor="end">10</text>
<line x1="304.6" y1="295.00" x2="308" y2="295.00" stroke="#1e1e1e" stroke-width="1.2"/>
<text transform="translate(301.60 298.30) scale(0.84 1)" font-size="9.2" fill="#2e2e2e" text-anchor="end">0</text>
<line x1="304.6" y1="309.42" x2="308" y2="309.42" stroke="#1e1e1e" stroke-width="1.2"/>
<text transform="translate(301.60 312.72) scale(0.84 1)" font-size="9.2" fill="#2e2e2e" text-anchor="end">−10</text>
<line x1="304.6" y1="323.84" x2="308" y2="323.84" stroke="#1e1e1e" stroke-width="1.2"/>
<text transform="translate(301.60 327.14) scale(0.84 1)" font-size="9.2" fill="#2e2e2e" text-anchor="end">−20</text>
<line x1="304.6" y1="338.26" x2="308" y2="338.26" stroke="#1e1e1e" stroke-width="1.2"/>
<text transform="translate(301.60 341.56) scale(0.84 1)" font-size="9.2" fill="#2e2e2e" text-anchor="end">−30</text>
<line x1="304.6" y1="352.68" x2="308" y2="352.68" stroke="#1e1e1e" stroke-width="1.2"/>
<text transform="translate(301.60 355.98) scale(0.84 1)" font-size="9.2" fill="#2e2e2e" text-anchor="end">−40</text>
<text transform="translate(282.2,296.50) rotate(-90)" x="0" y="0" font-size="8.9" fill="#2e2e2e" text-anchor="middle" textLength="60.5" lengthAdjust="spacingAndGlyphs">Estimate (95% CI)</text>
<line x1="319.80" y1="357.5" x2="319.80" y2="360.9" stroke="#1e1e1e" stroke-width="1.2"/>
<text transform="translate(319.80 370.40) scale(0.98 1)" font-size="8.3" fill="#2e2e2e" text-anchor="middle">Baseline</text>
<line x1="351.17" y1="357.5" x2="351.17" y2="360.9" stroke="#1e1e1e" stroke-width="1.2"/>
<text transform="translate(351.17 370.40) scale(0.98 1)" font-size="8.3" fill="#2e2e2e" text-anchor="middle">Day</text>
<text transform="translate(351.17 380.00) scale(0.88 1)" font-size="9.0" fill="#2e2e2e" text-anchor="middle">50</text>
<line x1="382.54" y1="357.5" x2="382.54" y2="360.9" stroke="#1e1e1e" stroke-width="1.2"/>
<text transform="translate(382.54 370.40) scale(0.98 1)" font-size="8.3" fill="#2e2e2e" text-anchor="middle">Day</text>
<text transform="translate(382.54 380.00) scale(0.88 1)" font-size="9.0" fill="#2e2e2e" text-anchor="middle">100</text>
<line x1="413.91" y1="357.5" x2="413.91" y2="360.9" stroke="#1e1e1e" stroke-width="1.2"/>
<text transform="translate(413.91 370.40) scale(0.98 1)" font-size="8.3" fill="#2e2e2e" text-anchor="middle">Day</text>
<text transform="translate(413.91 380.00) scale(0.88 1)" font-size="9.0" fill="#2e2e2e" text-anchor="middle">150</text>
<line x1="445.28" y1="357.5" x2="445.28" y2="360.9" stroke="#1e1e1e" stroke-width="1.2"/>
<text transform="translate(445.28 370.40) scale(0.98 1)" font-size="8.3" fill="#2e2e2e" text-anchor="middle">Month</text>
<text transform="translate(445.28 380.00) scale(0.88 1)" font-size="9.0" fill="#2e2e2e" text-anchor="middle">9</text>
<line x1="476.65" y1="357.5" x2="476.65" y2="360.9" stroke="#1e1e1e" stroke-width="1.2"/>
<text transform="translate(476.65 370.40) scale(0.98 1)" font-size="8.3" fill="#2e2e2e" text-anchor="middle">Month</text>
<text transform="translate(476.65 380.00) scale(0.88 1)" font-size="9.0" fill="#2e2e2e" text-anchor="middle">12</text>
<line x1="508.02" y1="357.5" x2="508.02" y2="360.9" stroke="#1e1e1e" stroke-width="1.2"/>
<text transform="translate(508.02 370.40) scale(0.98 1)" font-size="8.3" fill="#2e2e2e" text-anchor="middle">Month</text>
<text transform="translate(508.02 380.00) scale(0.88 1)" font-size="9.0" fill="#2e2e2e" text-anchor="middle">15</text>
<text transform="translate(411.20 393.70) scale(0.74 1)" font-size="10.3" fill="#2e2e2e" text-anchor="middle">Study visit</text>
<text transform="translate(308.60 406.50) scale(0.95 1)" font-size="8.8" fill="#36618f" text-anchor="end">Axi-cel</text>
<text transform="translate(308.40 415.70) scale(0.95 1)" font-size="8.8" fill="#c63a63" text-anchor="end">SOC</text>
<text transform="translate(319.50 406.50) scale(0.92 1)" font-size="8.8" fill="#36618f" text-anchor="middle">165</text>
<text transform="translate(319.50 415.70) scale(0.92 1)" font-size="8.8" fill="#c63a63" text-anchor="middle">130</text>
<text transform="translate(350.87 406.50) scale(0.92 1)" font-size="8.8" fill="#36618f" text-anchor="middle">163</text>
<text transform="translate(350.87 415.70) scale(0.92 1)" font-size="8.8" fill="#c63a63" text-anchor="middle">125</text>
<text transform="translate(382.24 406.50) scale(0.92 1)" font-size="8.8" fill="#36618f" text-anchor="middle">146</text>
<text transform="translate(382.24 415.70) scale(0.92 1)" font-size="8.8" fill="#c63a63" text-anchor="middle">63</text>
<text transform="translate(413.61 406.50) scale(0.92 1)" font-size="8.8" fill="#36618f" text-anchor="middle">110</text>
<text transform="translate(413.61 415.70) scale(0.92 1)" font-size="8.8" fill="#c63a63" text-anchor="middle">56</text>
<text transform="translate(444.98 406.50) scale(0.92 1)" font-size="8.8" fill="#36618f" text-anchor="middle">88</text>
<text transform="translate(444.98 415.70) scale(0.92 1)" font-size="8.8" fill="#c63a63" text-anchor="middle">40</text>
<text transform="translate(476.35 406.50) scale(0.92 1)" font-size="8.8" fill="#36618f" text-anchor="middle">79</text>
<text transform="translate(476.35 415.70) scale(0.92 1)" font-size="8.8" fill="#c63a63" text-anchor="middle">33</text>
<text transform="translate(507.72 406.50) scale(0.92 1)" font-size="8.8" fill="#36618f" text-anchor="middle">67</text>
<text transform="translate(507.72 415.70) scale(0.92 1)" font-size="8.8" fill="#c63a63" text-anchor="middle">26</text>
<line x1="351.15" y1="306.54" x2="351.15" y2="321.24" stroke="#2c2c2c" stroke-width="1.3"/>
<line x1="348.55" y1="321.24" x2="353.75" y2="321.24" stroke="#2c2c2c" stroke-width="1.25"/>
<line x1="348.55" y1="306.54" x2="353.75" y2="306.54" stroke="#2c2c2c" stroke-width="1.25"/>
<line x1="351.15" y1="306.10" x2="351.15" y2="320.96" stroke="#2c2c2c" stroke-width="1.3"/>
<line x1="348.55" y1="320.96" x2="353.75" y2="320.96" stroke="#2c2c2c" stroke-width="1.25"/>
<line x1="348.55" y1="306.10" x2="353.75" y2="306.10" stroke="#2c2c2c" stroke-width="1.25"/>
<line x1="382.60" y1="288.51" x2="382.60" y2="303.94" stroke="#2c2c2c" stroke-width="1.3"/>
<line x1="380.00" y1="303.94" x2="385.20" y2="303.94" stroke="#2c2c2c" stroke-width="1.25"/>
<line x1="380.00" y1="288.51" x2="385.20" y2="288.51" stroke="#2c2c2c" stroke-width="1.25"/>
<line x1="382.60" y1="319.37" x2="382.60" y2="339.41" stroke="#2c2c2c" stroke-width="1.3"/>
<line x1="380.00" y1="339.41" x2="385.20" y2="339.41" stroke="#2c2c2c" stroke-width="1.25"/>
<line x1="380.00" y1="319.37" x2="385.20" y2="319.37" stroke="#2c2c2c" stroke-width="1.25"/>
<path d="M382.60 281.70V285.10M381.10 282.55L384.10 284.25M381.10 284.25L384.10 282.55" stroke="#222" stroke-width="1.1"/>
<line x1="414.05" y1="278.42" x2="414.05" y2="294.42" stroke="#2c2c2c" stroke-width="1.3"/>
<line x1="411.45" y1="294.42" x2="416.65" y2="294.42" stroke="#2c2c2c" stroke-width="1.25"/>
<line x1="411.45" y1="278.42" x2="416.65" y2="278.42" stroke="#2c2c2c" stroke-width="1.25"/>
<line x1="414.05" y1="300.34" x2="414.05" y2="319.66" stroke="#2c2c2c" stroke-width="1.3"/>
<line x1="411.45" y1="319.66" x2="416.65" y2="319.66" stroke="#2c2c2c" stroke-width="1.25"/>
<line x1="411.45" y1="300.34" x2="416.65" y2="300.34" stroke="#2c2c2c" stroke-width="1.25"/>
<path d="M414.05 271.40V274.80M412.55 272.25L415.55 273.95M412.55 273.95L415.55 272.25" stroke="#222" stroke-width="1.1"/>
<line x1="445.50" y1="270.05" x2="445.50" y2="287.21" stroke="#2c2c2c" stroke-width="1.3"/>
<line x1="442.90" y1="287.21" x2="448.10" y2="287.21" stroke="#2c2c2c" stroke-width="1.25"/>
<line x1="442.90" y1="270.05" x2="448.10" y2="270.05" stroke="#2c2c2c" stroke-width="1.25"/>
<line x1="445.50" y1="287.07" x2="445.50" y2="311.29" stroke="#2c2c2c" stroke-width="1.3"/>
<line x1="442.90" y1="311.29" x2="448.10" y2="311.29" stroke="#2c2c2c" stroke-width="1.25"/>
<line x1="442.90" y1="287.07" x2="448.10" y2="287.07" stroke="#2c2c2c" stroke-width="1.25"/>
<path d="M445.50 263.80V267.20M444.00 264.65L447.00 266.35M444.00 266.35L447.00 264.65" stroke="#222" stroke-width="1.1"/>
<line x1="476.95" y1="276.83" x2="476.95" y2="295.58" stroke="#2c2c2c" stroke-width="1.3"/>
<line x1="474.35" y1="295.58" x2="479.55" y2="295.58" stroke="#2c2c2c" stroke-width="1.25"/>
<line x1="474.35" y1="276.83" x2="479.55" y2="276.83" stroke="#2c2c2c" stroke-width="1.25"/>
<line x1="476.95" y1="267.03" x2="476.95" y2="293.56" stroke="#2c2c2c" stroke-width="1.3"/>
<line x1="474.35" y1="293.56" x2="479.55" y2="293.56" stroke="#2c2c2c" stroke-width="1.25"/>
<line x1="474.35" y1="267.03" x2="479.55" y2="267.03" stroke="#2c2c2c" stroke-width="1.25"/>
<line x1="508.40" y1="272.07" x2="508.40" y2="292.40" stroke="#2c2c2c" stroke-width="1.3"/>
<line x1="505.80" y1="292.40" x2="511.00" y2="292.40" stroke="#2c2c2c" stroke-width="1.25"/>
<line x1="505.80" y1="272.07" x2="511.00" y2="272.07" stroke="#2c2c2c" stroke-width="1.25"/>
<line x1="508.40" y1="268.47" x2="508.40" y2="295.43" stroke="#2c2c2c" stroke-width="1.3"/>
<line x1="505.80" y1="295.43" x2="511.00" y2="295.43" stroke="#2c2c2c" stroke-width="1.25"/>
<line x1="505.80" y1="268.47" x2="511.00" y2="268.47" stroke="#2c2c2c" stroke-width="1.25"/>
<polyline points="319.70,295.00 351.15,313.75 382.60,296.30 414.05,286.20 445.50,279.14 476.95,286.78 508.40,282.89" fill="none" stroke="#1c5184" stroke-width="1.55" stroke-linejoin="round"/>
<polyline points="319.70,295.00 351.15,313.46 382.60,329.18 414.05,310.14 445.50,299.18 476.95,280.72 508.40,282.45" fill="none" stroke="#c3184a" stroke-width="1.55" stroke-linejoin="round"/>
<circle cx="319.70" cy="295.00" r="2.2" fill="#1c5184"/>
<circle cx="351.15" cy="313.75" r="2.2" fill="#1c5184"/>
<circle cx="382.60" cy="296.30" r="2.2" fill="#1c5184"/>
<circle cx="414.05" cy="286.20" r="2.2" fill="#1c5184"/>
<circle cx="445.50" cy="279.14" r="2.2" fill="#1c5184"/>
<circle cx="476.95" cy="286.78" r="2.2" fill="#1c5184"/>
<circle cx="508.40" cy="282.89" r="2.2" fill="#1c5184"/>
<circle cx="319.70" cy="295.00" r="2.2" fill="#c3184a"/>
<circle cx="351.15" cy="313.46" r="2.2" fill="#c3184a"/>
<circle cx="382.60" cy="329.18" r="2.2" fill="#c3184a"/>
<circle cx="414.05" cy="310.14" r="2.2" fill="#c3184a"/>
<circle cx="445.50" cy="299.18" r="2.2" fill="#c3184a"/>
<circle cx="476.95" cy="280.72" r="2.2" fill="#c3184a"/>
<circle cx="508.40" cy="282.45" r="2.2" fill="#c3184a"/>
</svg>
</body></html>
